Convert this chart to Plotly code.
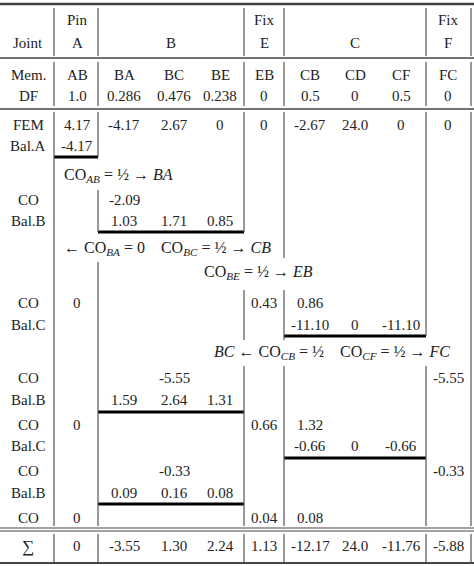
import plotly.graph_objects as go

# columns of the moment distribution table
joints = ["Pin<br>A", "B", "Fix<br>E", "C", "Fix<br>F"]
members = ["AB", "BA", "BC", "BE", "EB", "CB", "CD", "CF", "FC"]
df = ["1.0", "0.286", "0.476", "0.238", "0", "0.5", "0", "0.5", "0"]

row_labels = ["FEM", "Bal.A", "CO", "Bal.B", "CO", "Bal.C", "CO", "Bal.B",
              "CO", "Bal.C", "CO", "Bal.B", "CO"]
fem = ["4.17", "-4.17", "2.67", "0", "0", "-2.67", "24.0", "0", "0"]
bal_a = ["-4.17", "", "", "", "", "", "", "", ""]
co_1 = ["", "-2.09", "", "", "", "", "", "", ""]
bal_b1 = ["", "1.03", "1.71", "0.85", "", "", "", "", ""]
co_2 = ["0", "", "", "", "0.43", "0.86", "", "", ""]
bal_c1 = ["", "", "", "", "", "-11.10", "0", "-11.10", ""]
co_3 = ["", "", "-5.55", "", "", "", "", "", "-5.55"]
bal_b2 = ["", "1.59", "2.64", "1.31", "", "", "", "", ""]
co_4 = ["0", "", "", "", "0.66", "1.32", "", "", ""]
bal_c2 = ["", "", "", "", "", "-0.66", "0", "-0.66", ""]
co_5 = ["", "", "-0.33", "", "", "", "", "", "-0.33"]
bal_b3 = ["", "0.09", "0.16", "0.08", "", "", "", "", ""]
co_6 = ["0", "", "", "", "0.04", "0.08", "", "", ""]
total = ["0", "-3.55", "1.30", "2.24", "1.13", "-12.17", "24.0", "-11.76", "-5.88"]

notes = [
    "CO<sub><i>AB</i></sub> = ½ → <i>BA</i>",
    "← CO<sub><i>BA</i></sub> = 0    CO<sub><i>BC</i></sub> = ½ → <i>CB</i>",
    "CO<sub><i>BE</i></sub> = ½ → <i>EB</i>",
    "<i>BC</i> ← CO<sub><i>CB</i></sub> = ½    CO<sub><i>CF</i></sub> = ½ → <i>FC</i>",
]

col_x = [77, 124, 174, 220, 264, 310, 355, 401, 448]
joint_x = [77, 171, 264, 355, 448]
body_y = [125, 146, 200, 221, 303, 325, 378, 400, 425, 446, 471, 493, 518]
body_rows = [fem, bal_a, co_1, bal_b1, co_2, bal_c1, co_3, bal_b2, co_4,
             bal_c2, co_5, bal_b3, co_6]

FONT = "Liberation Serif"
fig = go.Figure()
ann = []


def txt(x, y, s, anchor="center", size=15):
    ann.append(dict(x=x, y=y, text=s, showarrow=False, xanchor=anchor,
                    yanchor="middle", font=dict(family=FONT, size=size, color="#222")))


txt(28, 43, "Joint")
for x, j in zip(joint_x, joints):
    if "<br>" in j:
        a, b = j.split("<br>")
        txt(x, 20, a)
        txt(x, 43, b)
    else:
        txt(x, 43, j)
txt(28, 75, "Mem.")
txt(28, 96, "DF")
for x, m, d in zip(col_x, members, df):
    txt(x, 75, m)
    txt(x, 96, d)
for y, lab, row in zip(body_y, row_labels, body_rows):
    txt(28, y, lab)
    for x, v in zip(col_x, row):
        if v:
            txt(x, y, v)
txt(28, 546, "∑", size=17)
for x, v in zip(col_x, total):
    txt(x, 546, v)

txt(62, 175, notes[0], "left", 16)
txt(62, 248, notes[1], "left", 16)
txt(258, 272, notes[2], "center", 16)
txt(452, 352, notes[3], "right", 16)

shapes = []


def hline(y, x0, x1, w=1.5, c="#444"):
    shapes.append(dict(type="line", x0=x0, x1=x1, y0=y, y1=y, line=dict(color=c, width=w)))


def vline(x, segs):
    for y0, y1 in segs:
        shapes.append(dict(type="line", x0=x, x1=x, y0=y0, y1=y1, line=dict(color="#555", width=1.2)))


hline(4, 0, 474, 2.5)
hline(58, 0, 474, 1.5)
hline(109, 0, 474, 1.5)
hline(528, 0, 474, 1.2)
hline(531, 0, 474, 1.2)
hline(563, 0, 474, 2)

# thick balance bars
hline(157, 54, 98, 3, "#000")
for y in [232, 412, 504]:
    hline(y, 98, 244, 3, "#000")
for y in [336, 458]:
    hline(y, 284, 426, 3, "#000")

hdr = [(8, 56), (62, 106)]
foot = [(534, 562)]
vline(54, hdr + [(112, 526)] + foot)
vline(98, hdr + [(112, 157), (190, 232), (262, 526)] + foot)
vline(244, hdr + [(112, 232), (290, 340), (366, 526)] + foot)
vline(284, hdr + [(112, 258), (290, 340), (366, 526)] + foot)
vline(426, hdr + [(112, 336), (366, 526)] + foot)
vline(471, hdr + [(112, 526)] + foot)

fig.update_layout(
    width=474, height=566, margin=dict(l=0, r=0, t=0, b=0),
    paper_bgcolor="white", plot_bgcolor="white",
    xaxis=dict(range=[0, 474], visible=False, fixedrange=True),
    yaxis=dict(range=[566, 0], visible=False, fixedrange=True),
    annotations=ann, shapes=shapes, showlegend=False,
)

fig.write_html("out.html", config={"displayModeBar": False},
               post_script="document.body.style.margin='0';document.body.style.overflow='hidden';")
